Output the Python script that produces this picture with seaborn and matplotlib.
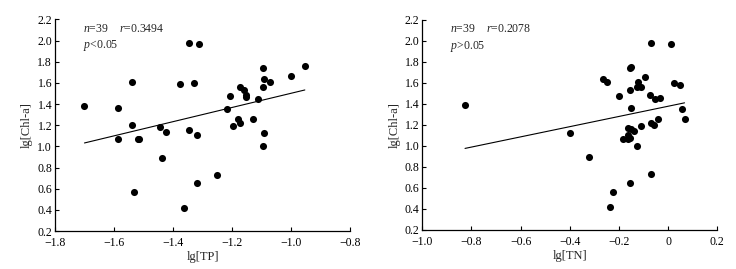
import numpy as np
import pandas as pd
import seaborn as sns
import matplotlib.pyplot as plt

# lg[TP] vs lg[Chl-a]
tp = [-1.70, -1.588, -1.588, -1.539, -1.539, -1.533, -1.52, -1.516, -1.443, -1.436,
      -1.424, -1.376, -1.363, -1.346, -1.346, -1.329, -1.32, -1.32, -1.313, -1.252,
      -1.218, -1.205, -1.195, -1.181, -1.173, -1.172, -1.158, -1.151, -1.151, -1.13,
      -1.111, -1.096, -1.096, -1.096, -1.090, -1.090, -1.071, -1.0, -0.953]
chl_tp = [1.386, 1.36, 1.07, 1.61, 1.2, 0.57, 1.07, 1.07, 1.18, 0.89,
          1.14, 1.585, 0.42, 1.98, 1.156, 1.6, 1.11, 0.65, 1.97, 0.727,
          1.355, 1.475, 1.19, 1.263, 1.563, 1.222, 1.537, 1.484, 1.462, 1.263,
          1.452, 1.743, 1.557, 1.001, 1.635, 1.124, 1.613, 1.664, 1.755]

# lg[TN] vs lg[Chl-a]
tn = [-0.826, -0.399, -0.322, -0.068, 0.012, -0.156, -0.150, -0.263, -0.249, -0.094,
      -0.121, 0.0245, 0.05, -0.128, -0.112, -0.156, -0.201, -0.073, -0.052, -0.031,
      -0.151, 0.056, 0.067, -0.042, -0.069, -0.057, -0.112, -0.163, -0.152, -0.137,
      -0.184, -0.165, -0.161, -0.155, -0.127, -0.071, -0.156, -0.226, -0.238]
chl_tn = [1.387, 1.121, 0.892, 1.978, 1.968, 1.74, 1.755, 1.635, 1.607, 1.66,
          1.61, 1.597, 1.581, 1.559, 1.559, 1.533, 1.473, 1.483, 1.448, 1.46,
          1.362, 1.352, 1.257, 1.26, 1.219, 1.2, 1.187, 1.174, 1.159, 1.143,
          1.07, 1.1, 1.067, 1.08, 1.003, 0.733, 0.645, 0.565, 0.419]

df_tp = pd.DataFrame({"lg[TP]": tp, "lg[Chl-a]": chl_tp})
df_tn = pd.DataFrame({"lg[TN]": tn, "lg[Chl-a]": chl_tn})

sns.set_style("ticks")
plt.rcParams["font.family"] = ["Liberation Serif", "DejaVu Serif"]
plt.rcParams["mathtext.fontset"] = "custom"
plt.rcParams["mathtext.it"] = "Liberation Serif:italic"
plt.rcParams["mathtext.rm"] = "Liberation Serif"

fig = plt.figure(figsize=(7.36, 2.69), dpi=100)
ax1 = fig.add_axes([0.0747, 0.141, 0.4008, 0.787])
ax2 = fig.add_axes([0.5737, 0.145, 0.4008, 0.781])

panels = [
    (ax1, df_tp, "lg[TP]", (-1.8, -0.8), np.arange(-1.8, -0.79, 0.2), "0.3494", "$p$<0.05"),
    (ax2, df_tn, "lg[TN]", (-1.0, 0.2), np.arange(-1.0, 0.21, 0.2), "0.2078", "$p$>0.05"),
]

for ax, df, xcol, xlim, xticks, r, p in panels:
    sns.regplot(data=df, x=xcol, y="lg[Chl-a]", ax=ax, ci=None,
                scatter_kws={"s": 26, "color": "black", "linewidths": 0, "alpha": 1},
                line_kws={"color": "black", "linewidth": 0.8})
    ax.set_xlim(*xlim)
    ax.set_ylim(0.2, 2.2)
    ax.set_xticks(xticks)
    ax.set_yticks(np.arange(0.2, 2.21, 0.2))
    ax.set_xticklabels(["0" if abs(t) < 1e-9 else f"{t:.1f}".replace("-", "\u2212") for t in xticks])
    ax.set_yticklabels([f"{t:.1f}" for t in np.arange(0.2, 2.21, 0.2)])
    ax.tick_params(direction="in", length=3, width=0.8, labelsize=8.5, colors="black")
    ax.tick_params(axis="x", pad=4.5)
    ax.tick_params(axis="y", pad=2)
    for s in ["left", "bottom"]:
        ax.spines[s].set_linewidth(0.9)
        ax.spines[s].set_color("black")
    sns.despine(ax=ax)
    ax.set_xlabel(xcol, fontsize=9, labelpad=1)
    ax.set_ylabel("lg[Chl-a]", fontsize=9, labelpad=3)
    ax.text(0.095, 0.955, "$n$=39    $r$=" + r, transform=ax.transAxes, fontsize=8.5, va="center")
    ax.text(0.095, 0.875, p, transform=ax.transAxes, fontsize=8.5, va="center")

fig.savefig("out.png", dpi=100)
